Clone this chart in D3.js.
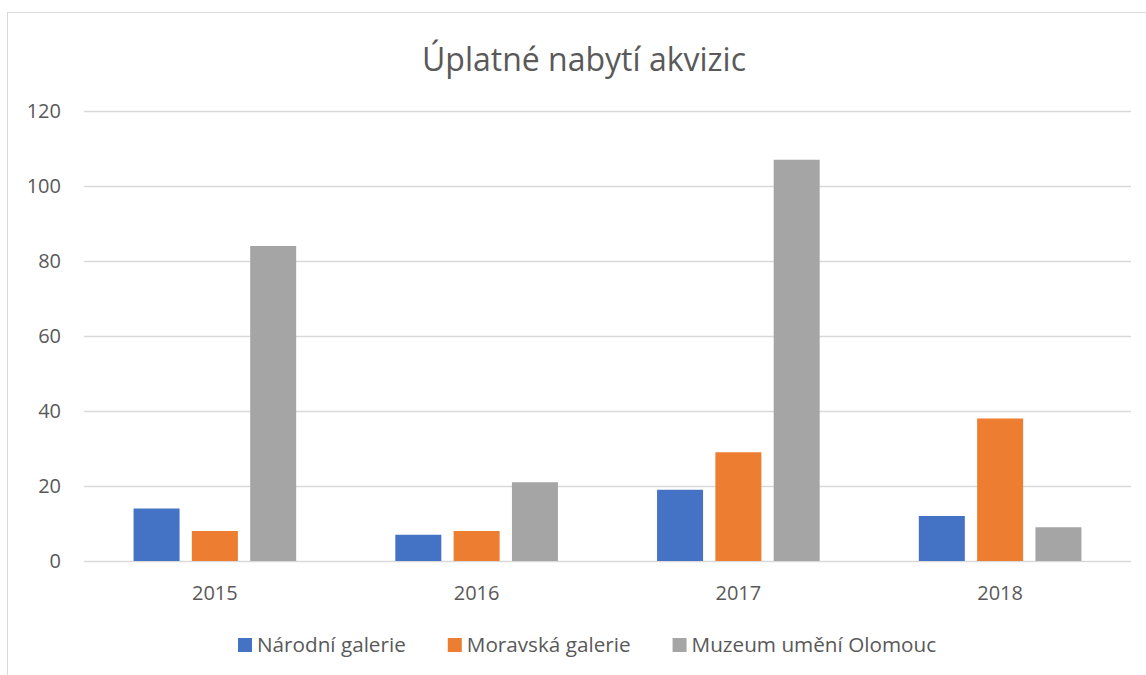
<!DOCTYPE html>
<html lang="cs">
<head>
<meta charset="utf-8">
<title>Úplatné nabytí akvizic</title>
<script src="https://cdn.jsdelivr.net/npm/d3@7"></script>
<style>
  body { margin: 0; background: #fff; }
  text { font-family: "Open Sans", "Noto Sans", sans-serif; fill: #595959; }
</style>
</head>
<body>
<script>
var years = ["2015", "2016", "2017", "2018"];
var seriesNames = ["Národní galerie", "Moravská galerie", "Muzeum umění Olomouc"];
var seriesColors = ["#4472c4", "#ed7d31", "#a5a5a5"];
var narodni = [14, 7, 19, 12];
var moravska = [8, 8, 29, 38];
var muzeum = [84, 21, 107, 9];
var yTicks = [0, 20, 40, 60, 80, 100, 120];

var w = 1146, h = 675;
var plotLeft = 84, plotRight = 1131, plotTop = 111, plotBottom = 561;

var svg = d3.select("body").append("svg").attr("width", w).attr("height", h);

// chart frame
svg.append("rect")
  .attr("x", 7.5).attr("y", 12.5).attr("width", 1160).attr("height", 700)
  .attr("fill", "none").attr("stroke", "#d9d9d9").attr("stroke-width", 1);

var values = [narodni, moravska, muzeum];

var x0 = d3.scaleBand().domain(years).range([plotLeft, plotRight]);
var x1 = d3.scaleBand().domain(d3.range(seriesNames.length))
  .range([0, x0.bandwidth()]).paddingInner(0.211).paddingOuter(0.85);
var y = d3.scaleLinear().domain([0, 120]).range([plotBottom, plotTop]);

// gridlines
svg.append("g").selectAll("line").data(yTicks).enter().append("line")
  .attr("x1", plotLeft).attr("x2", plotRight)
  .attr("y1", function (d) { return Math.round(y(d)) + 0.5; })
  .attr("y2", function (d) { return Math.round(y(d)) + 0.5; })
  .attr("stroke", "#d9d9d9").attr("stroke-width", 1.3);

// y tick labels
svg.append("g").selectAll("text").data(yTicks).enter().append("text")
  .attr("x", 61).attr("y", function (d) { return y(d); })
  .attr("dy", "0.36em")
  .attr("text-anchor", "end")
  .attr("font-size", "20px")
  .text(function (d) { return d; });

// bars
var groups = svg.append("g").selectAll("g").data(years).enter().append("g")
  .attr("transform", function (d) { return "translate(" + x0(d) + ",0)"; });

groups.selectAll("rect")
  .data(function (d, i) { return values.map(function (s, j) { return { s: j, v: s[i] }; }); })
  .enter().append("rect")
  .attr("x", function (d) { return x1(d.s); })
  .attr("width", x1.bandwidth())
  .attr("y", function (d) { return y(d.v); })
  .attr("height", function (d) { return plotBottom - y(d.v); })
  .attr("fill", function (d) { return seriesColors[d.s]; });

// category labels
svg.append("g").selectAll("text").data(years).enter().append("text")
  .attr("x", function (d) { return x0(d) + x0.bandwidth() / 2; })
  .attr("y", 600)
  .attr("text-anchor", "middle")
  .attr("font-size", "20px")
  .text(function (d) { return d; });

// title
svg.append("text")
  .attr("x", 584).attr("y", 71)
  .attr("text-anchor", "middle")
  .attr("font-size", "32px")
  .text("Úplatné nabytí akvizic");

// legend
var legend = svg.append("g");
var items = legend.selectAll("g").data(seriesNames).enter().append("g");
items.append("rect")
  .attr("width", 14).attr("height", 14)
  .attr("y", 638)
  .attr("fill", function (d, i) { return seriesColors[i]; });
items.append("text")
  .attr("x", 19).attr("y", 652)
  .attr("font-size", "20.7px")
  .text(function (d) { return d; });

var pos = 238;
items.each(function () {
  var g = d3.select(this);
  g.attr("transform", "translate(" + pos + ",0)");
  pos += 19 + g.select("text").node().getComputedTextLength() + 42;
});
</script>
</body>
</html>
